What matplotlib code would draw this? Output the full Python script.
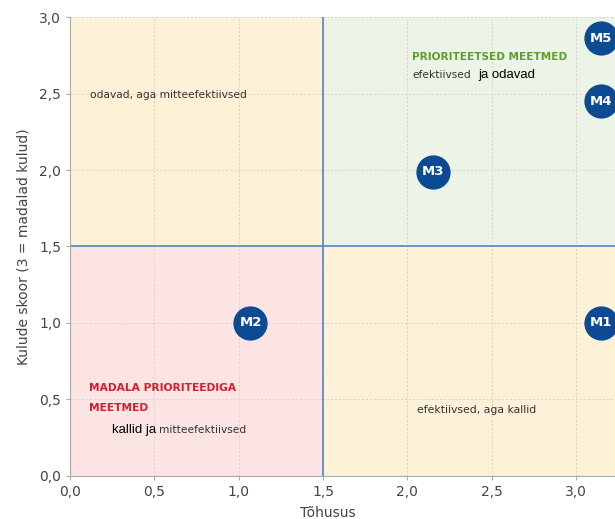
import matplotlib
matplotlib.use("Agg")
import matplotlib.pyplot as plt
from matplotlib.patches import Rectangle

labels = ["M1", "M2", "M3", "M4", "M5"]
tohusus = [3.15, 1.07, 2.15, 3.15, 3.15]
kulud = [1.0, 1.0, 1.99, 2.45, 2.86]
ticks = [0.0, 0.5, 1.0, 1.5, 2.0, 2.5, 3.0]
tick_labels = ["0,0", "0,5", "1,0", "1,5", "2,0", "2,5", "3,0"]
split = 1.5

fig = plt.figure(figsize=(6.15, 5.19), dpi=100)
ax = fig.add_axes([0.1138, 0.0829, 0.8862, 0.8843])
xmax = 3.231
ax.set_xlim(0, xmax)
ax.set_ylim(0, 3.0)

orange = "#fdf1d8"
green = "#ebf4e6"
pink = "#fbe4e3"
ax.add_patch(Rectangle((0, split), split, 3.0 - split, color=orange, zorder=0, lw=0))
ax.add_patch(Rectangle((split, split), xmax - split, 3.0 - split, color=green, zorder=0, lw=0))
ax.add_patch(Rectangle((0, 0), split, split, color=pink, zorder=0, lw=0))
ax.add_patch(Rectangle((split, 0), xmax - split, split, color=orange, zorder=0, lw=0))

ax.set_xticks(ticks)
ax.set_xticklabels(tick_labels)
ax.set_yticks(ticks)
ax.set_yticklabels(tick_labels)
ax.grid(True, linestyle=(0, (2, 2)), color="#d8d2c8", linewidth=0.7, zorder=1)
ax.set_axisbelow(True)

ax.axvline(split, color="#4f86c6", lw=1.2, zorder=2)
ax.axhline(split, color="#4f86c6", lw=1.2, zorder=2)

for s in ["top", "right"]:
    ax.spines[s].set_visible(False)
for s in ["left", "bottom"]:
    ax.spines[s].set_color("#aaaaaa")
    ax.spines[s].set_linewidth(0.8)
ax.tick_params(colors="#444444", labelsize=10, length=3, color="#aaaaaa")

ax.scatter(tohusus, kulud, s=560, color="#0d4a94", zorder=5, clip_on=False)
for lab, x, y in zip(labels, tohusus, kulud):
    ax.text(x, y, lab, color="white", fontsize=9.5, fontweight="bold",
            ha="center", va="center", zorder=6)

tc = "#333333"
ax.text(0.12, 2.49, "odavad, aga mitteefektiivsed", fontsize=7.7, color=tc, va="center")
ax.text(2.03, 2.74, "PRIORITEETSED MEETMED", fontsize=7.6, color="#5a9e2f",
        fontweight="bold", va="center")
ax.text(2.03, 2.62, "efektiivsed", fontsize=7.7, color=tc, va="center")
ax.text(2.42, 2.62, "ja odavad", fontsize=9.5, color="black", va="center",
        family="Liberation Sans")
ax.text(0.113, 0.575, "MADALA PRIORITEEDIGA", fontsize=7.7, color="#d0202e",
        fontweight="bold", va="center")
ax.text(0.113, 0.444, "MEETMED", fontsize=7.7, color="#d0202e",
        fontweight="bold", va="center")
ax.text(0.25, 0.30, "kallid ja", fontsize=9.5, color="black", va="center",
        family="Liberation Sans")
ax.text(0.53, 0.30, "mitteefektiivsed", fontsize=7.7, color=tc, va="center")
ax.text(2.06, 0.43, "efektiivsed, aga kallid", fontsize=7.8, color=tc, va="center")

ax.set_xlabel("Tõhusus", fontsize=10, color="#444444")
ax.xaxis.set_label_coords((328 - 70) / 545, -0.065)
ax.set_ylabel("Kulude skoor (3 = madalad kulud)", fontsize=10, color="#444444", labelpad=6)

fig.savefig("out.png", dpi=100)
